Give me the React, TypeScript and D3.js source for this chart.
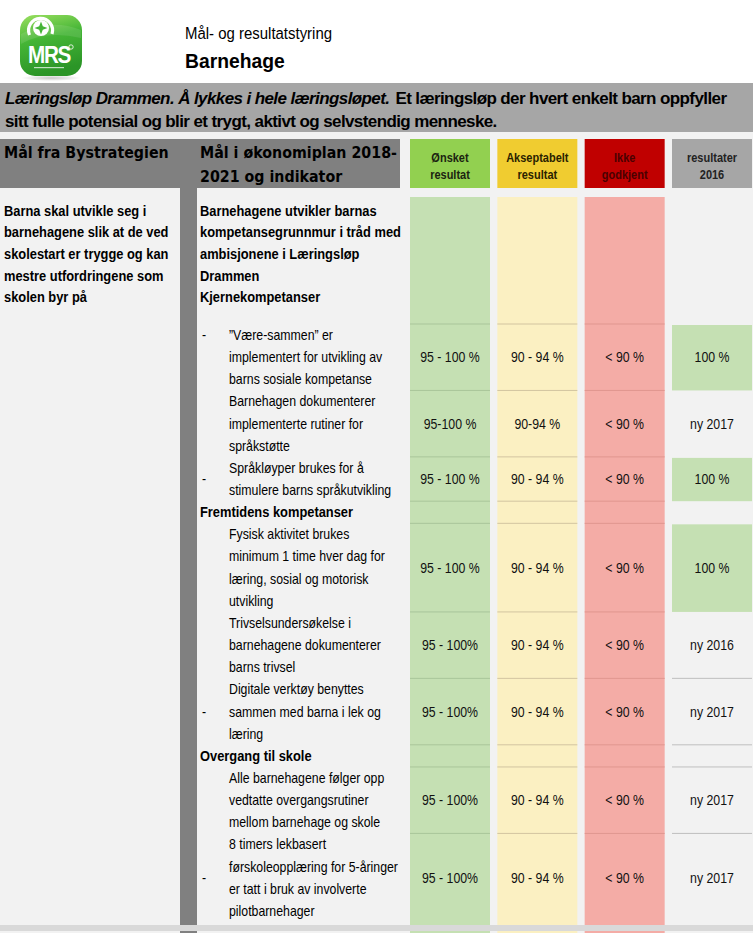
import React from "react";
import * as d3 from "d3";

const pageTitle = "Mål- og resultatstyring";
const pageSubtitle = "Barnehage";
const bannerItalic = "Læringsløp Drammen. Å lykkes i hele læringsløpet.";
const bannerLine1 = "Et læringsløp der hvert enkelt barn oppfyller";
const bannerLine2 = "sitt fulle potensial og blir et trygt, aktivt og selvstendig menneske.";
const headerLeft = ["Mål fra Bystrategien"];
const headerMid = ["Mål i økonomiplan 2018-", "2021 og indikator"];
const columnKeys = ["desired", "acceptable", "notApproved", "result"];
const columnHeaders = [
  ["Ønsket", "resultat"],
  ["Akseptabelt", "resultat"],
  ["Ikke", "godkjent"],
  ["resultater", "2016"],
];
const bystrategiGoal = [
  "Barna skal utvikle seg i",
  "barnehagene slik at de ved",
  "skolestart er trygge og kan",
  "mestre utfordringene som",
  "skolen byr på",
];
const planIntro = [
  "Barnehagene utvikler barnas",
  "kompetansegrunnmur i tråd med",
  "ambisjonene i Læringsløp",
  "Drammen",
  "Kjernekompetanser",
];
const sectionTitles = ["Fremtidens kompetanser", "Overgang til skole"];
const sectionBeforeIndicator = [3, 6];
const indicatorLines = [
  ["”Være-sammen” er", "implementert for utvikling av", "barns sosiale kompetanse"],
  ["Barnehagen dokumenterer", "implementerte rutiner for", "språkstøtte"],
  ["Språkløyper brukes for å", "stimulere barns språkutvikling"],
  ["Fysisk aktivitet brukes", "minimum 1 time hver dag for", "læring, sosial og motorisk", "utvikling"],
  ["Trivselsundersøkelse i", "barnehagene dokumenterer", "barns trivsel"],
  ["Digitale verktøy  benyttes", "sammen med barna i lek og", "læring"],
  ["Alle barnehagene følger opp", "vedtatte overgangsrutiner", "mellom barnehage og skole"],
  ["8 timers lekbasert", "førskoleopplæring for 5-åringer", "er tatt i bruk av involverte", "pilotbarnehager"],
];
const indicatorDash = ["top", null, "middle", null, null, "middle", null, "middle"];
const desired = ["95 - 100 %", "95-100 %", "95 - 100 %", "95 - 100 %", "95 - 100%", "95 - 100%", "95 - 100%", "95 - 100%"];
const acceptable = ["90 - 94 %", "90-94 %", "90 - 94 %", "90 - 94 %", "90 - 94 %", "90 - 94 %", "90 - 94 %", "90 - 94 %"];
const notApproved = ["< 90 %", "< 90 %", "< 90 %", "< 90 %", "< 90 %", "< 90 %", "< 90 %", "< 90 %"];
const results2016 = ["100 %", "ny 2017", "100 %", "100 %", "ny 2016", "ny 2017", "ny 2017", "ny 2017"];

const headerFills = ["#92d050", "#f0cc30", "#c00000", "#a6a6a6"];
const headerTextFills = ["#1c2410", "#2a2200", "#4a0000", "#222222"];
const bodyFills = ["#c5e0b3", "#fbf0c2", "#f4aca6", "#c5e0b3"];
const lineFills = ["#a9c59a", "#d2c4a0", "#e0968f", "#bfbfbf"];

const W = 753;
const H = 933;
const SANS = "'Liberation Sans', Arial, Helvetica, sans-serif";
const WIDE = "'DejaVu Sans', Verdana, sans-serif";

type TProps = {
  x: number;
  y: number;
  size?: number;
  weight?: number | string;
  italic?: boolean;
  anchor?: "start" | "middle" | "end";
  ls?: number;
  sx?: number;
  fill?: string;
  family?: string;
  children: React.ReactNode;
};
function T({ x, y, size = 14, weight = 400, italic = false, anchor = "start", ls = 0, sx = 0.88, fill = "#000", family = SANS, children }: TProps) {
  return (
    <text
      transform={`translate(${x},${y}) scale(${sx},1)`}
      dy="0.35em"
      fontSize={size}
      fontWeight={weight}
      fontStyle={italic ? "italic" : "normal"}
      textAnchor={anchor}
      letterSpacing={ls}
      fill={fill}
      fontFamily={family}
    >
      {children}
    </text>
  );
}

type Row = { kind: "item"; idx: number; units: number } | { kind: "section"; title: string; units: number };

function buildRows(): Row[] {
  const rows: Row[] = [];
  indicatorLines.forEach((lines, i) => {
    const s = sectionBeforeIndicator.indexOf(i);
    if (s >= 0) rows.push({ kind: "section", title: sectionTitles[s], units: 1 });
    rows.push({ kind: "item", idx: i, units: lines.length });
  });
  return rows;
}

function Logo() {
  return (
    <g>
      <defs>
        <linearGradient id="lg" x1="0" y1="0" x2="0.25" y2="1">
          <stop offset="0" stopColor="#9be060" />
          <stop offset="0.45" stopColor="#45b536" />
          <stop offset="1" stopColor="#2b9527" />
        </linearGradient>
        <radialGradient id="sh" cx="0.5" cy="0.5" r="0.5">
          <stop offset="0" stopColor="#000" stopOpacity="0.22" />
          <stop offset="1" stopColor="#000" stopOpacity="0" />
        </radialGradient>
      </defs>
      <ellipse cx={51} cy={78} rx={30} ry={3} fill="url(#sh)" />
      <rect x={20} y={15} width={62} height={61} rx={15} fill="url(#lg)" />
      <path d="M21,44 Q45,30 81,38 L81,30 Q50,18 21,34 Z" fill="#ffffff" opacity={0.1} />
      <path d="M29.5,35 A12,12 0 1 1 52,34" fill="none" stroke="#fff" strokeWidth={3.2} />
      <circle cx={41} cy={28} r={8} fill="#fff" />
      <path d="M41,21.5 L42.8,26.2 L47.5,28 L42.8,29.8 L41,34.5 L39.2,29.8 L34.5,28 L39.2,26.2 Z" fill="#45b536" />
      <text x={49} y={63} textAnchor="middle" fontFamily={SANS} fontWeight={700} fontSize={23} fill="#fff" letterSpacing={-1.5} transform="translate(49,0) scale(0.9,1) translate(-49,0)">
        MRS
      </text>
      <circle cx={71} cy={47} r={2.2} fill="none" stroke="#fff" strokeWidth={0.8} />
      <rect x={34} y={67} width={30} height={1.2} fill="#fff" opacity={0.7} />
    </g>
  );
}

export default function App() {
  const rows = buildRows();
  const totalUnits = d3.sum(rows, (r) => r.units);
  const y = d3.scaleLinear().domain([0, totalUnits]).range([324, 922]);
  const yIntro = d3.scaleLinear().domain([0, planIntro.length]).range([200, 308]);
  const xCol = d3.scaleBand<string>().domain(columnKeys).range([410, 752]).paddingInner(0.084);
  const bw = xCol.bandwidth();
  const colValues = [desired, acceptable, notApproved, results2016];

  let acc = 0;
  const placed = rows.map((r) => {
    const top = y(acc);
    acc += r.units;
    return { ...r, top, bottom: y(acc), start: acc - r.units };
  });
  const isGreenResult = (r: (typeof placed)[number]) =>
    r.kind === "item" && parseFloat(results2016[r.idx]) >= 95;

  const bodyTop = 197;
  const bandY = 925;

  return (
    <div style={{ position: "absolute", left: 0, top: 0, width: W, height: H }}>
      <svg width={W} height={H} viewBox={`0 0 ${W} ${H}`} style={{ display: "block" }}>
        <rect x={0} y={0} width={W} height={H} fill="#f2f2f2" />
        <rect x={0} y={0} width={W} height={83} fill="#ffffff" />
        <Logo />
        <T x={185} y={33} size={17} sx={0.88}>{pageTitle}</T>
        <T x={185} y={61} size={21} weight={700} sx={0.92}>{pageSubtitle}</T>

        {/* banner */}
        <rect x={0} y={83} width={W} height={49} fill="#a6a6a6" />
        <text x={5} y={98} dy="0.35em" fontFamily={SANS} fontSize={17} fontWeight={700} letterSpacing={-0.6} fill="#000">
          <tspan fontStyle="italic">{bannerItalic}</tspan>
          <tspan dx={6}>{bannerLine1}</tspan>
        </text>
        <text x={5} y={121} dy="0.35em" fontFamily={SANS} fontSize={17} fontWeight={700} letterSpacing={-0.6} fill="#000">
          {bannerLine2}
        </text>

        {/* header dark */}
        <rect x={0} y={139} width={400} height={49} fill="#808080" />
        <rect x={180} y={139} width={17} height={H - 139} fill="#808080" />
        {headerLeft.map((t, i) => (
          <T key={t} x={4} y={153 + i * 24} size={15} weight={700} family={WIDE} sx={0.95}>{t}</T>
        ))}
        {headerMid.map((t, i) => (
          <T key={t} x={200} y={153 + i * 24} size={15} weight={700} family={WIDE} sx={0.95}>{t}</T>
        ))}

        {/* column headers */}
        {columnKeys.map((k, ci) => (
          <g key={k}>
            <rect x={xCol(k)} y={139} width={bw} height={49} fill={headerFills[ci]} />
            {columnHeaders[ci].map((t, li) => (
              <T key={li} x={(xCol(k) as number) + bw / 2} y={158 + li * 17} size={12.5} weight={700} anchor="middle" sx={0.88} fill={headerTextFills[ci]}>
                {t}
              </T>
            ))}
          </g>
        ))}

        {/* body column fills */}
        {columnKeys.slice(0, 3).map((k, ci) => (
          <rect key={k} x={xCol(k)} y={bodyTop} width={bw} height={H - bodyTop} fill={bodyFills[ci]} />
        ))}
        {placed.filter(isGreenResult).map((r, i) => (
          <rect key={i} x={xCol("result")} y={r.top + 1} width={bw} height={r.bottom - r.top - 1} fill={bodyFills[3]} />
        ))}

        {/* row separator lines */}
        {placed.map((r, i) => {
          const prev = i > 0 ? placed[i - 1] : null;
          return (
            <g key={i}>
              {columnKeys.slice(0, 3).map((k, ci) => (
                <line key={k} x1={xCol(k)} x2={(xCol(k) as number) + bw} y1={r.top} y2={r.top} stroke={lineFills[ci]} strokeWidth={1} />
              ))}
              {!isGreenResult(r) && prev && !isGreenResult(prev) && (
                <line x1={xCol("result")} x2={(xCol("result") as number) + bw} y1={r.top} y2={r.top} stroke={lineFills[3]} strokeWidth={1} />
              )}
            </g>
          );
        })}

        {/* left column text */}
        {bystrategiGoal.map((t, i) => (
          <T key={t} x={4} y={yIntro(i + 0.5)} size={14} weight={700} sx={0.92}>{t}</T>
        ))}
        {planIntro.map((t, i) => (
          <T key={t} x={200} y={yIntro(i + 0.5)} size={14} weight={700} sx={0.92}>{t}</T>
        ))}

        {/* rows */}
        {placed.map((r, i) => {
          if (r.kind === "section") {
            return (
              <T key={i} x={200} y={(r.top + r.bottom) / 2} size={14} weight={700} sx={0.92}>{r.title}</T>
            );
          }
          const lines = indicatorLines[r.idx];
          const lh = (r.bottom - r.top) / lines.length;
          const mid = (r.top + r.bottom) / 2;
          const dash = indicatorDash[r.idx];
          return (
            <g key={i}>
              {lines.map((t, li) => (
                <T key={li} x={229} y={r.top + (li + 0.5) * lh}>{t}</T>
              ))}
              {dash && <T x={202} y={dash === "top" ? r.top + 0.5 * lh : mid}>-</T>}
              {columnKeys.map((k, ci) => (
                <T key={k} x={(xCol(k) as number) + bw / 2} y={mid} anchor="middle" fill="#111">
                  {colValues[ci][r.idx]}
                </T>
              ))}
            </g>
          );
        })}

        {/* bottom band */}
        <rect x={0} y={bandY} width={W} height={6} fill="#d9d9d9" />
      </svg>
    </div>
  );
}
